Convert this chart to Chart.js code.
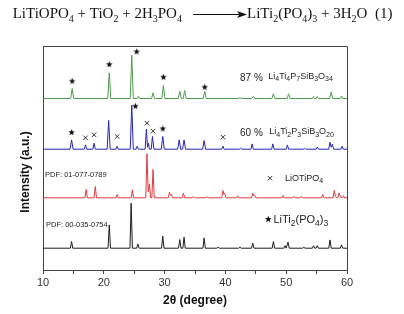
<!DOCTYPE html>
<html><head><meta charset="utf-8">
<script src="https://cdn.jsdelivr.net/npm/chart.js@4"></script>
<style>html,body{margin:0;padding:0;background:#fff;}canvas{display:block}</style>
</head><body>
<canvas id="c" width="404" height="314"></canvas>
<script>
// ---------- DATA (2θ in degrees, intensity above each pattern's own baseline) ----------
const greenPts = [[10,0],[14.55,0],[14.8,10],[15.05,0],[20.65,0],[20.9,25.7],[21.15,0],[24.35,0],[24.6,43.3],[24.85,0],[25.5,0],[25.7,2.3],[25.9,0],[27.85,0],[28.1,5.7],[28.35,0],[29.55,0],[29.8,13],[30.05,0],[32.25,0],[32.5,7.3],[32.75,0],[33.05,0],[33.3,8],[33.55,0],[36.35,0],[36.6,7.3],[36.85,0],[42.2,0],[42.4,1],[42.6,0],[44.35,0],[44.6,2.3],[44.85,0],[47.65,0],[47.9,4.7],[48.15,0],[50.15,0],[50.4,4.7],[50.65,0],[54.3,0],[54.5,2],[54.7,0],[54.9,0],[55.1,2],[55.3,0],[57.15,0],[57.4,6.3],[57.65,0],[58.9,0],[59.1,2.5],[59.3,0],[60,0]];
const bluePts = [[10,0],[14.45,0],[14.7,9.3],[14.95,0],[16.8,0],[17.0,4.3],[17.2,0],[18.2,0],[18.4,6],[18.6,0],[20.55,0],[20.8,28.7],[21.05,0],[22.0,0],[22.2,3],[22.4,0],[24.35,0],[24.6,44],[24.85,0],[25.3,0],[25.5,3],[25.7,0],[26.8,0],[27.0,20],[27.2,2],[27.35,6],[27.5,0],[27.8,0],[28.0,12.7],[28.25,0],[29.45,0],[29.7,12.7],[29.95,0],[32.15,0],[32.4,9.3],[32.65,0],[32.95,0],[33.2,9.3],[33.45,0],[36.25,0],[36.5,8.7],[36.75,0],[39.4,0],[39.6,3],[39.8,0],[42.3,0],[42.5,1.2],[42.7,0],[44.2,0],[44.4,5.3],[44.6,0],[47.6,0],[47.8,5.3],[48.0,0],[50.0,0],[50.2,4.3],[50.4,0],[52.8,0],[53.0,1],[53.2,0],[54.9,0],[55.1,2],[55.3,0],[57.0,0],[57.2,7],[57.4,2],[57.6,5],[57.8,0],[59.0,0],[59.2,3],[59.4,0],[60,0]];
const redPts = [[10,0],[16.9,0],[17.1,8.3],[17.3,0],[18.4,0],[18.6,11.3],[18.8,0],[22.0,0],[22.2,3.3],[22.4,0],[24.5,0],[24.7,8],[24.9,0],[26.9,0],[27.1,44],[27.3,6],[27.5,14],[27.7,0],[27.9,0],[28.1,28.3],[28.3,0],[30.6,0],[30.8,5.7],[30.95,2.5],[31.1,3.5],[31.3,0],[32.9,0],[33.1,4.7],[33.3,0],[34.5,0],[34.7,1.3],[34.9,0],[36.8,0],[37.0,1],[37.2,0],[39.4,0],[39.6,7.3],[39.75,3.5],[39.9,4.5],[40.1,0],[41.8,0],[42.0,2],[42.2,0],[44.3,0],[44.5,4.7],[44.65,2],[44.8,2.5],[45.0,0],[49.3,0],[49.5,2.3],[49.7,0],[51.1,0],[51.3,1.5],[51.5,0],[52.3,0],[52.5,1.5],[52.7,0],[55.8,0],[56.0,3.3],[56.2,0],[57.7,0],[57.9,7.3],[58.1,1.5],[58.3,0],[58.5,0],[58.7,5],[58.9,1],[59.2,0],[59.4,2],[59.6,0],[60,0]];
const blackPts = [[10,0],[14.5,0],[14.7,6.7],[14.9,0],[20.7,0],[20.9,23.3],[21.1,0],[24.3,0],[24.5,45],[24.7,0],[25.4,0],[25.6,4.3],[25.8,0],[29.5,0],[29.7,12],[29.9,0],[32.3,0],[32.5,8.7],[32.7,0],[33.0,0],[33.2,11],[33.4,0],[36.3,0],[36.5,10.3],[36.7,0],[38.6,0],[38.8,1],[39.0,0],[42.2,0],[42.4,1],[42.6,0],[44.3,0],[44.5,5],[44.7,0],[47.7,0],[47.9,6.7],[48.1,0],[49.6,0],[49.8,2.5],[50.0,0],[50.1,0],[50.3,6],[50.5,0],[52.7,0],[52.9,1],[53.1,0],[54.3,0],[54.5,2.5],[54.7,0],[54.9,0],[55.1,2.5],[55.3,0],[57.0,0],[57.2,8.3],[57.4,0],[58.9,0],[59.1,3.3],[59.3,0],[60,0]];

// phase markers (2θ, height above pattern baseline)
const greenStarX = [14.8, 20.9, 25.4, 29.8, 36.6];
const greenStarY = [17.3, 34, 46.7, 21.3, 11.3];
const blueStarX = [14.7, 25.2, 29.7];
const blueStarY = [16.7, 43, 20.4];
const blueCrossX = [17.0, 18.4, 22.2, 27.1, 28.1, 39.6];
const blueCrossY = [11.4, 14.4, 12.7, 26, 18, 12];

const xTickLabels = [10, 20, 30, 40, 50, 60];

// ---------- LAYOUT ----------
const base = {green:171.5, blue:120.8, red:72.2, black:21.8};
const toData = (pts, off) => pts.map(p => ({x:p[0], y:p[1]+off}));
const zipData = (xs, ys, off) => xs.map((x,i) => ({x, y:ys[i]+off}));

function starPath(g, cx, cy, R){
  const r = R*0.42; g.beginPath();
  for(let i=0;i<10;i++){const a=-Math.PI/2+i*Math.PI/5; const rr=i%2?r:R; g.lineTo(cx+rr*Math.cos(a), cy+rr*Math.sin(a));}
  g.closePath();
}
function starImg(R){
  const c=document.createElement('canvas'); const s=Math.ceil(R*2)+2; c.width=s; c.height=s;
  const g=c.getContext('2d'); g.fillStyle='#111'; starPath(g,s/2,s/2,R); g.fill(); return c;
}
const STAR = starImg(3.4);

function drawRich(ctx, str, x, y, size, subSize, drop, family, color){
  const parts = str.split(/(_\{[^}]*\})/).filter(s=>s.length);
  ctx.fillStyle=color; ctx.textBaseline='alphabetic'; ctx.textAlign='left';
  let cx=x;
  for(const p of parts){
    if(p.startsWith('_{')){ const t=p.slice(2,-1); ctx.font=subSize+'px '+family; ctx.fillText(t,cx,y+drop); cx+=ctx.measureText(t).width; }
    else { ctx.font=size+'px '+family; ctx.fillText(p,cx,y); cx+=ctx.measureText(p).width; }
  }
  return cx-x;
}

const annot = {
  id:'annot',
  afterDraw(chart){
    const ctx=chart.ctx, a=chart.chartArea;
    ctx.save();
    // box top/right
    ctx.strokeStyle='#444'; ctx.lineWidth=1;
    ctx.beginPath(); ctx.moveTo(a.left, a.top+0.5); ctx.lineTo(a.right+0.5, a.top+0.5); ctx.lineTo(a.right+0.5, a.bottom); ctx.stroke();
    const SS="'Liberation Sans', Arial, sans-serif";
    const SER="'Liberation Serif', 'Times New Roman', serif";
    // equation
    drawRich(ctx,'LiTiOPO_{4} + TiO_{2} + 2H_{3}PO_{4}',12.7,18,15,10,3.5,SER,'#111');
    ctx.strokeStyle='#111'; ctx.lineWidth=1;
    ctx.beginPath(); ctx.moveTo(193,14.5); ctx.lineTo(240,14.5); ctx.stroke();
    ctx.fillStyle='#111'; ctx.beginPath(); ctx.moveTo(247,14.5); ctx.lineTo(237,11); ctx.lineTo(239.5,14.5); ctx.lineTo(237,18); ctx.closePath(); ctx.fill();
    drawRich(ctx,'LiTi_{2}(PO_{4})_{3} + 3H_{2}O',247,18,15,10,3.5,SER,'#111');
    drawRich(ctx,'(1)',375,18,15,10,3.5,SER,'#111');
    // pattern labels
    drawRich(ctx,'87 %',240,80.7,10,8,0,SS,'#222');
    drawRich(ctx,'Li_{4}Ti_{4}P_{7}SiB_{3}O_{34}',268.3,78.7,9,7,2.5,SS,'#222');
    drawRich(ctx,'60 %',240,136,10,8,0,SS,'#222');
    drawRich(ctx,'Li_{4}Ti_{2}P_{3}SiB_{3}O_{20}',269.3,134.3,9,7,2.5,SS,'#222');
    drawRich(ctx,'PDF: 01-077-0789',45,177,7.5,6,0,SS,'#222');
    drawRich(ctx,'PDF: 00-035-0754',46,226.7,7.5,6,0,SS,'#222');
    // legend symbols
    ctx.strokeStyle='#333'; ctx.lineWidth=1;
    ctx.beginPath(); ctx.moveTo(267.8,176); ctx.lineTo(272.2,180.4); ctx.moveTo(272.2,176); ctx.lineTo(267.8,180.4); ctx.stroke();
    drawRich(ctx,'LiOTiPO_{4}',285,180.5,9,7,2.5,SS,'#222');
    ctx.fillStyle='#111'; starPath(ctx,268.3,219.3,3.6); ctx.fill();
    drawRich(ctx,'LiTi_{2}(PO_{4})_{3}',273.5,223.3,11,8.5,3,SS,'#222');
    // axis titles
    ctx.fillStyle='#111'; ctx.font="bold 12px "+SS; ctx.textAlign='center'; ctx.textBaseline='middle';
    ctx.fillText('2θ (degree)',195,301);
    ctx.translate(26,172); ctx.rotate(-Math.PI/2); ctx.fillText('Intensity (a.u.)',0,0);
    ctx.restore();
  }
};

const lineDs = (label, pts, off, color) => ({type:'scatter', label, data:toData(pts,off), showLine:true, borderColor:color, backgroundColor:color, borderWidth:1, pointRadius:0, tension:0});

new Chart(document.getElementById('c'), {
  type:'scatter',
  data:{datasets:[
    {label:'stars87', data:zipData(greenStarX,greenStarY,base.green), pointStyle:STAR, pointRadius:4, showLine:false},
    {label:'stars60', data:zipData(blueStarX,blueStarY,base.blue), pointStyle:STAR, pointRadius:4, showLine:false},
    {label:'cross60', data:zipData(blueCrossX,blueCrossY,base.blue), pointStyle:'crossRot', pointRadius:3.2, borderColor:'#333', borderWidth:1, showLine:false},
    lineDs('87 %', greenPts, base.green, '#4f9a4f'),
    lineDs('60 %', bluePts, base.blue, '#2424b4'),
    lineDs('PDF 01-077-0789', redPts, base.red, '#e03a3e'),
    lineDs('PDF 00-035-0754', blackPts, base.black, '#1c1c1c'),
  ]},
  options:{
    responsive:false, animation:false, devicePixelRatio:1,
    layout:{padding:{top:46,right:57,left:0,bottom:0}},
    plugins:{legend:{display:false}, tooltip:{enabled:false}},
    scales:{
      x:{type:'linear', min:10, max:60,
        afterFit(s){ s.height=44; },
        ticks:{stepSize:5, autoSkip:false, maxRotation:0, padding:2, color:'#333',
          font:{family:"'Liberation Sans', Arial, sans-serif", size:11},
          callback:v=>xTickLabels.includes(v)?String(v):''},
        grid:{drawOnChartArea:false, drawTicks:true, tickLength:4, color:'#444'},
        border:{display:true, color:'#444', width:1}},
      y:{type:'linear', min:0, max:224,
        afterFit(s){ s.width=43; },
        ticks:{display:false}, grid:{display:false, drawTicks:false},
        border:{display:true, color:'#444', width:1}}
    }
  },
  plugins:[annot]
});
</script>
</body></html>
